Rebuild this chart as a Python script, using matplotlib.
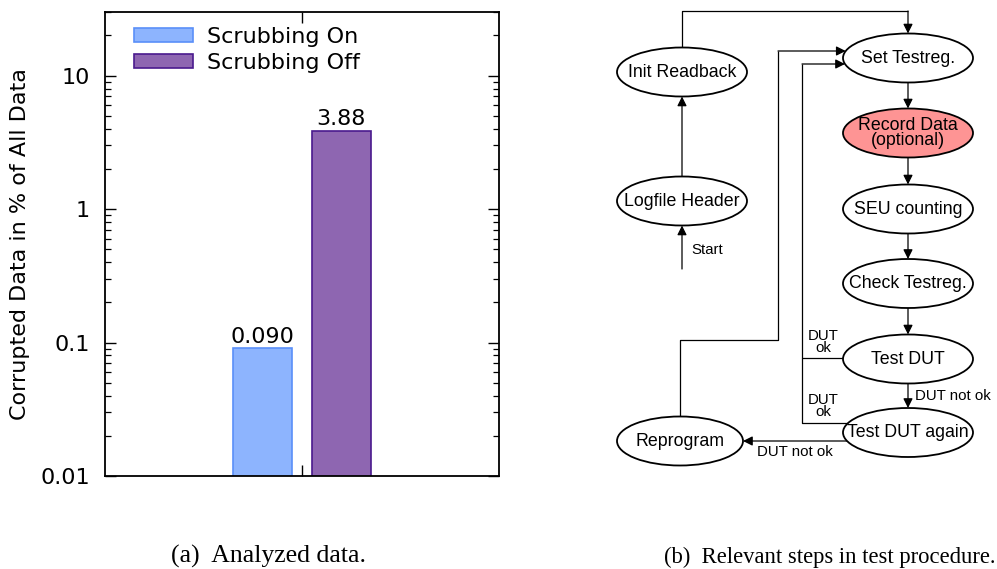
import matplotlib
matplotlib.use("Agg")
import matplotlib.pyplot as plt
from matplotlib.patches import Ellipse
from matplotlib.ticker import LogLocator, NullFormatter, FixedLocator
import numpy as np

# ---- data for the bar chart ----
series_names = ["Scrubbing On", "Scrubbing Off"]
corrupted_pct = [0.090, 3.88]
value_labels = ["0.090", "3.88"]
y_ticks = [0.01, 0.1, 1, 10]
y_tick_labels = ["0.01", "0.1", "1", "10"]

# ---- flowchart content ----
node_names = ["Init Readback", "Logfile Header", "Set Testreg.", "Record Data\n(optional)",
              "SEU counting", "Check Testreg.", "Test DUT", "Test DUT again", "Reprogram"]
edge_texts = ["Start", "DUT\nok", "DUT\nok", "DUT not ok", "DUT not ok"]
captions = ["(a)  Analyzed data.", "(b)  Relevant steps in test procedure."]

W, H = 997, 569
fig = plt.figure(figsize=(W / 100, H / 100), dpi=100)

# ================= bar chart =================
ax = fig.add_axes([105 / W, 1 - 476 / H, (499 - 105) / W, (476 - 12) / H])
fill_cols = ["#8db4fe", "#8e66b1"]
edge_cols = ["#5a8ff8", "#4a1a8e"]
offsets = [-0.2, 0.2]
bw = 0.3
for name, val, lab, off, fc, ec in zip(series_names, corrupted_pct, value_labels,
                                        offsets, fill_cols, edge_cols):
    ax.bar(off, val, width=bw, bottom=0.001, color=fc, edgecolor=ec, linewidth=1.2,
           label=name, zorder=2)
    ax.annotate(lab, (off, val), xytext=(0, 4), textcoords="offset points",
                ha="center", va="baseline", fontsize=16)

ax.set_yscale("log")
ax.set_ylim(0.01, 30)
ax.set_xlim(-1, 1)
ax.yaxis.set_major_locator(FixedLocator(y_ticks))
ax.set_yticklabels(y_tick_labels)
ax.yaxis.set_minor_locator(LogLocator(base=10, subs=np.arange(2, 10)))
ax.yaxis.set_minor_formatter(NullFormatter())
ax.set_xticks([0])
ax.set_xticklabels([""])
ax.tick_params(which="major", direction="in", length=8, width=1.0,
               top=True, right=True, labelsize=16, pad=11)
ax.tick_params(which="minor", direction="in", length=4, width=0.9,
               right=True, left=True)
for sp in ax.spines.values():
    sp.set_linewidth(1.3)
ax.set_ylabel("Corrupted Data in % of All Data", fontsize=16)
ax.yaxis.set_label_coords(-0.19, 0.5)
ax.legend(loc="upper left", bbox_to_anchor=(0.025, 1.008), frameon=False, fontsize=16,
          handlelength=2.65, handleheight=0.6, handletextpad=0.65,
          labelspacing=0.25, borderpad=0.35)

# ================= flowchart =================
fc = fig.add_axes([0, 0, 1, 1])
fc.set_xlim(0, W)
fc.set_ylim(H, 0)
fc.axis("off")

A, B = 65, 24.5
centers = {
    "Init Readback": (682, 72),
    "Logfile Header": (682, 201),
    "Set Testreg.": (908, 58),
    "Record Data\n(optional)": (908, 133),
    "SEU counting": (908, 209),
    "Check Testreg.": (908, 283.5),
    "Test DUT": (908, 359),
    "Test DUT again": (908, 432.5),
    "Reprogram": (680, 441),
}
faces = {"Record Data\n(optional)": "#fe9494"}
node_font = dict(family=["Liberation Sans", "DejaVu Sans"], fontsize=12.8)
edge_font = dict(family=["Liberation Sans", "DejaVu Sans"], fontsize=10.8)

for name in node_names:
    cx, cy = centers[name]
    a = 63 if name == "Reprogram" else A
    fc.add_patch(Ellipse((cx, cy), 2 * a, 2 * B, facecolor=faces.get(name, "white"),
                         edgecolor="black", linewidth=1.3, zorder=3))
    fc.text(cx, cy, name, ha="center", va="center", linespacing=0.78, zorder=4,
            **node_font)


def left_edge(name, y):
    cx, cy = centers[name]
    a = 63 if name == "Reprogram" else A
    d = min(abs(y - cy) / B, 1.0)
    return cx - a * np.sqrt(1 - d * d)


def right_edge(name, y):
    cx, cy = centers[name]
    a = 63 if name == "Reprogram" else A
    d = min(abs(y - cy) / B, 1.0)
    return cx + a * np.sqrt(1 - d * d)


def top(name):
    return centers[name][1] - B


def bottom(name):
    return centers[name][1] + B


def connect(pts, arrow=True):
    xs, ys = zip(*pts)
    if arrow:
        fc.plot(xs[:-1], ys[:-1], color="black", lw=0.9, zorder=2, solid_capstyle="butt")
        fc.annotate("", xy=pts[-1], xytext=pts[-2],
                    arrowprops=dict(arrowstyle="-|>,head_length=0.4,head_width=0.2",
                                    mutation_scale=14, lw=0.9, color="black",
                                    shrinkA=0, shrinkB=0), zorder=2)
    else:
        fc.plot(xs, ys, color="black", lw=0.9, zorder=2, solid_capstyle="butt")


ix = centers["Init Readback"][0]
sx = centers["Set Testreg."][0]
# start -> logfile header -> init readback -> set testreg
connect([(ix, 269), (ix, bottom("Logfile Header"))])
connect([(ix, top("Logfile Header")), (ix, bottom("Init Readback"))])
connect([(ix, top("Init Readback")), (ix, 11), (sx, 11), (sx, top("Set Testreg."))])
# main vertical chain
chain = ["Set Testreg.", "Record Data\n(optional)", "SEU counting", "Check Testreg.",
         "Test DUT", "Test DUT again"]
for a_name, b_name in zip(chain[:-1], chain[1:]):
    connect([(sx, bottom(a_name)), (sx, top(b_name))])
# DUT ok loops back to Set Testreg.
connect([(left_edge("Test DUT", 358), 358), (802, 358), (802, 64),
         (left_edge("Set Testreg.", 64), 64)])
connect([(left_edge("Test DUT again", 423), 423), (802, 423), (802, 358)], arrow=False)
# DUT not ok twice -> Reprogram
connect([(left_edge("Test DUT again", 441), 441), (right_edge("Reprogram", 441), 441)])
# Reprogram -> Set Testreg.
rx = centers["Reprogram"][0]
connect([(rx, top("Reprogram")), (rx, 340), (778, 340), (778, 51),
         (left_edge("Set Testreg.", 51), 51)])

fc.text(691, 250, edge_texts[0], ha="left", va="center", **edge_font)
fc.text(823, 342, edge_texts[1], ha="center", va="center", linespacing=0.78, **edge_font)
fc.text(823, 406, edge_texts[2], ha="center", va="center", linespacing=0.78, **edge_font)
fc.text(915, 396, edge_texts[3], ha="left", va="center", **edge_font)
fc.text(795, 452, edge_texts[4], ha="center", va="center", **edge_font)

# ================= captions =================
cap_font = dict(family=["Liberation Serif", "DejaVu Serif"])
fc.text(268, 556, captions[0], ha="center", va="center", fontsize=18.5, **cap_font)
fc.text(995, 557, captions[1], ha="right", va="center", fontsize=16.3, **cap_font)

fig.savefig("out.png", dpi=100)
